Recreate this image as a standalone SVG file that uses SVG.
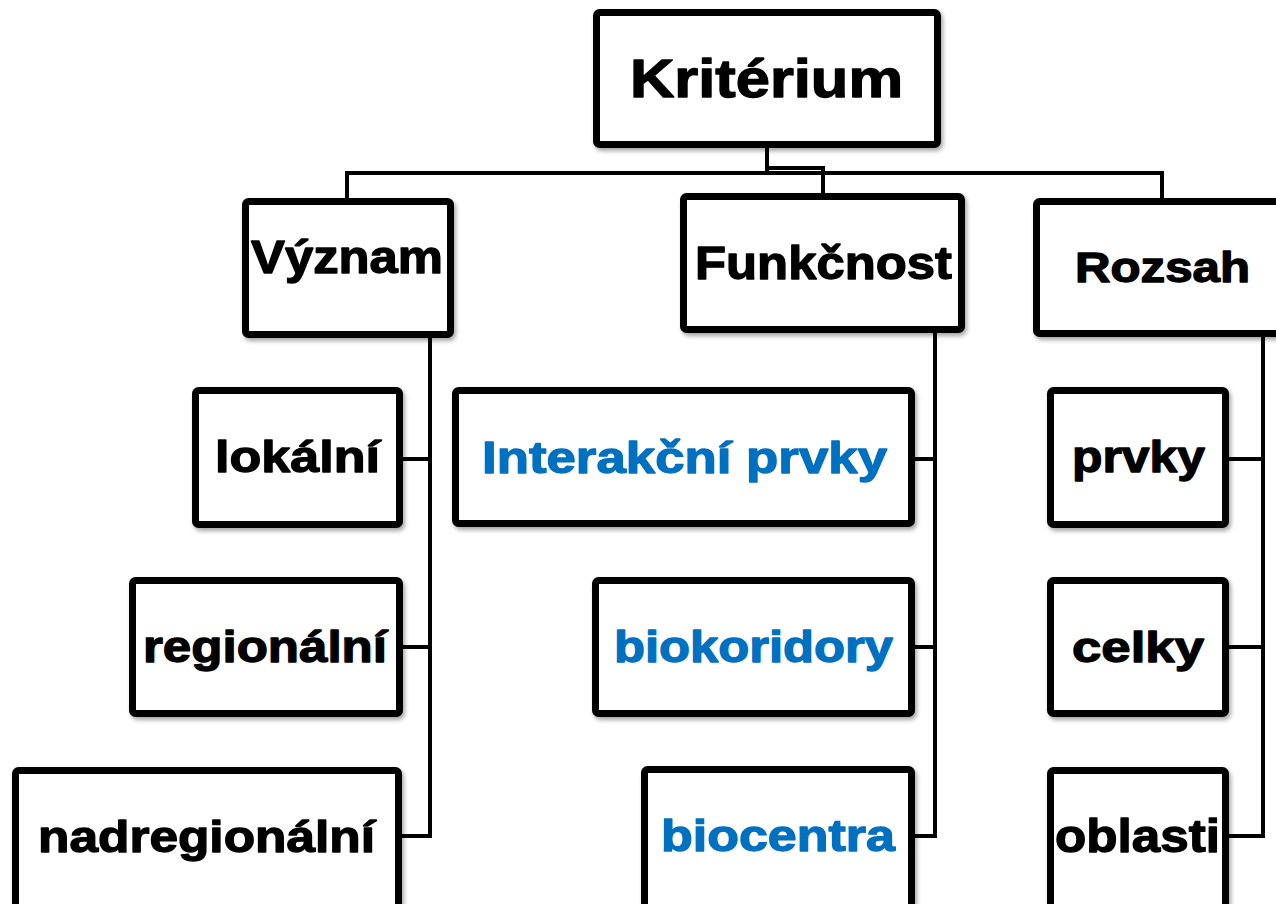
<svg xmlns="http://www.w3.org/2000/svg" width="1276" height="904" viewBox="0 0 1276 904">
  <defs>
    <filter id="sh" x="-10%" y="-10%" width="130%" height="130%">
      <feDropShadow dx="2" dy="3" stdDeviation="2" flood-color="#000" flood-opacity="0.35"/>
    </filter>
  </defs>
  <style>
    .box { fill: #fff; stroke: #000; stroke-width: 7; filter: url(#sh); }
    .t { font-family: "Liberation Sans", Arial, sans-serif; font-weight: bold; fill: #000; stroke: #000; stroke-width: 1.3; stroke-linejoin: round; }
    .b { fill: #0070C0; stroke: #0070C0; }
    .c { fill: none; stroke: #000; stroke-width: 4; stroke-linejoin: miter; }
  </style>
  <rect width="1276" height="904" fill="#fff"/>

  <g id="connectors">
    <path class="c" d="M767,148 V173"/>
    <path class="c" d="M767,168 H823 V196"/>
    <path class="c" d="M347,201 V173 H1162 V201"/>
    <path class="c" d="M430,336 V836 H400 M430,647 H400 M430,459 H400"/>
    <path class="c" d="M935,331 V836 H913 M935,647 H913 M935,459 H913"/>
    <path class="c" d="M1263,335 V836 H1227 M1263,647 H1227 M1263,459 H1227"/>
  </g>

  <g id="node-kriterium">
    <rect class="box" x="596.5" y="12.5" width="341" height="132" rx="3"/>
    <text class="t" x="630" y="97" font-size="53" stroke-width="1.6" textLength="273" lengthAdjust="spacingAndGlyphs">Kritérium</text>
  </g>
  <g id="node-vyznam">
    <rect class="box" x="245.5" y="201.5" width="205" height="133" rx="3"/>
    <text class="t" x="251" y="273" font-size="46" textLength="192" lengthAdjust="spacingAndGlyphs">Význam</text>
  </g>
  <g id="node-funkcnost">
    <rect class="box" x="683.5" y="196.5" width="278" height="133" rx="3"/>
    <text class="t" x="695" y="279" font-size="47" textLength="257" lengthAdjust="spacingAndGlyphs">Funkčnost</text>
  </g>
  <g id="node-rozsah">
    <rect class="box" x="1036.5" y="201.5" width="260" height="132" rx="3"/>
    <text class="t" x="1075" y="282" font-size="42" textLength="175" lengthAdjust="spacingAndGlyphs">Rozsah</text>
  </g>

  <g id="node-lokalni">
    <rect class="box" x="195.5" y="390.5" width="204" height="134" rx="3"/>
    <text class="t" x="215" y="472" font-size="45" textLength="165" lengthAdjust="spacingAndGlyphs">lokální</text>
  </g>
  <g id="node-regionalni">
    <rect class="box" x="132.5" y="580.5" width="267" height="133" rx="3"/>
    <text class="t" x="143" y="662" font-size="45" textLength="244" lengthAdjust="spacingAndGlyphs">regionální</text>
  </g>
  <g id="node-nadregionalni">
    <rect class="box" x="15.5" y="770.5" width="383" height="140" rx="3"/>
    <text class="t" x="38" y="852" font-size="45" textLength="337" lengthAdjust="spacingAndGlyphs">nadregionální</text>
  </g>

  <g id="node-interakcni">
    <rect class="box" x="455.5" y="390.5" width="456" height="133" rx="3"/>
    <text class="t b" x="482" y="473" font-size="45" textLength="405" lengthAdjust="spacingAndGlyphs">Interakční prvky</text>
  </g>
  <g id="node-biokoridory">
    <rect class="box" x="595.5" y="580.5" width="316" height="133" rx="3"/>
    <text class="t b" x="614" y="662" font-size="45" textLength="279" lengthAdjust="spacingAndGlyphs">biokoridory</text>
  </g>
  <g id="node-biocentra">
    <rect class="box" x="644.5" y="769.5" width="267" height="140" rx="3"/>
    <text class="t b" x="661" y="851" font-size="45" textLength="234" lengthAdjust="spacingAndGlyphs">biocentra</text>
  </g>

  <g id="node-prvky">
    <rect class="box" x="1050.5" y="390.5" width="175" height="134" rx="3"/>
    <text class="t" x="1072" y="472" font-size="45" textLength="133" lengthAdjust="spacingAndGlyphs">prvky</text>
  </g>
  <g id="node-celky">
    <rect class="box" x="1050.5" y="580.5" width="175" height="133" rx="3"/>
    <text class="t" x="1072" y="662" font-size="43" textLength="132" lengthAdjust="spacingAndGlyphs">celky</text>
  </g>
  <g id="node-oblasti">
    <rect class="box" x="1050.5" y="770.5" width="175" height="140" rx="3"/>
    <text class="t" x="1055" y="852" font-size="47" textLength="165" lengthAdjust="spacingAndGlyphs">oblasti</text>
  </g>
</svg>
